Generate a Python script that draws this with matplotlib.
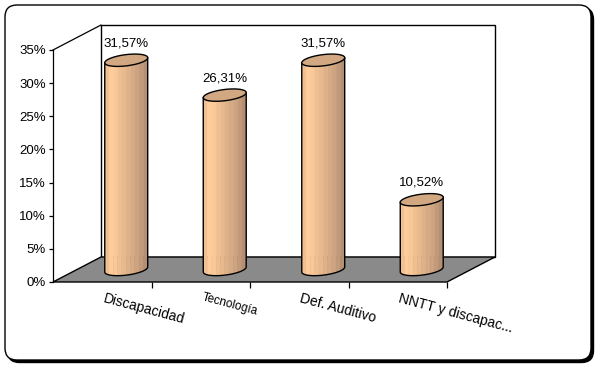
import matplotlib.pyplot as plt
import numpy as np
from matplotlib.patches import Polygon, Rectangle, FancyBboxPatch

plt.rcParams['font.family'] = ['Liberation Sans', 'DejaVu Sans']

categorias = ['Discapacidad', 'Tecnología', 'Def. Auditivo', 'NNTT y discapac...']
valores = [31.57, 26.31, 31.57, 10.52]
tam_cat = [10, 8.5, 10, 10]
yticks = [0, 5, 10, 15, 20, 25, 30, 35]

fig = plt.figure(figsize=(6, 3.68), dpi=100)

# marco redondeado con sombra
sombra = FancyBboxPatch((0.075, 0.055), 5.86, 3.55, boxstyle='round,pad=0,rounding_size=0.12',
                        transform=fig.dpi_scale_trans, fc='black', ec='black', zorder=-2)
marco = FancyBboxPatch((0.05, 0.08), 5.86, 3.55, boxstyle='round,pad=0,rounding_size=0.12',
                       transform=fig.dpi_scale_trans, fc='white', ec='black', lw=1, zorder=-1)
fig.patches.extend([sombra, marco])

# plano frontal del grafico 3D
ax = fig.add_axes([53 / 600, 86 / 368, 394 / 600, 232 / 368])
ax.set_xlim(0, 4)
ax.set_ylim(0, 35)
ax.patch.set_visible(False)

dx, dy = 0.487, 3.77      # desplazamiento de profundidad
a, b, s = 0.218, 0.85, 0.38  # radio, semieje vertical, inclinacion

# pared de fondo
ax.add_patch(Rectangle((dx, dy), 4, 35, fc='white', ec='black', lw=1, zorder=1, clip_on=False))
# suelo
ax.add_patch(Polygon([(0, 0), (4, 0), (4 + dx, dy), (dx, dy)], closed=True,
                     fc='#8a8a8a', ec='black', lw=1, zorder=2, clip_on=False))
ax.plot([0, dx], [35, 35 + dy], color='black', lw=0.9, zorder=2, clip_on=False)

franjas = ['#F0C092', '#FFCC99', '#FAC797', '#F0BF91', '#E8B98D', '#DFB188',
           '#D6AA84', '#CDA380', '#C29A7A', '#B58F72']

for i, v in enumerate(valores):
    xc = i + 0.5 + dx / 2
    ybot = dy / 2
    ytop = v + dy / 2
    bordes = np.linspace(-1, 1, len(franjas) + 1)
    for j, col in enumerate(franjas):
        u = np.linspace(bordes[j], bordes[j + 1], 12)
        yb = ybot + s * u - b * np.sqrt(np.clip(1 - u ** 2, 0, 1))
        yt = ytop + s * u
        pts = np.column_stack([np.r_[xc + a * u, xc + a * u[::-1]], np.r_[yb, yt[::-1]]])
        ax.add_patch(Polygon(pts, closed=True, fc=col, ec=col, lw=0.3, zorder=3, clip_on=False))
    # contorno del cuerpo
    t = np.linspace(np.pi, 2 * np.pi, 60)
    xs = np.r_[xc - a, xc + a * np.cos(t), xc + a]
    ys = np.r_[ytop - s, ybot + b * np.sin(t) + s * np.cos(t), ytop + s]
    ax.plot(xs, ys, color='black', lw=1, zorder=4, clip_on=False)
    # tapa superior
    t2 = np.linspace(0, 2 * np.pi, 100)
    tapa = np.column_stack([xc + a * np.cos(t2), ytop + b * np.sin(t2) + s * np.cos(t2)])
    ax.add_patch(Polygon(tapa, closed=True, fc='#D2A882', ec='black', lw=1, zorder=5, clip_on=False))
    ax.text(xc, ytop + b + 0.8, f'{v:.2f}%'.replace('.', ','), ha='center', va='bottom',
            fontsize=9.5, zorder=6)

for i, cat in enumerate(categorias):
    ax.annotate(cat, xy=(i + 0.5, 0), xytext=(3, -9), textcoords='offset pixels',
                ha='left', va='top', rotation=-15, rotation_mode='anchor',
                fontsize=tam_cat[i], annotation_clip=False)

for lado in ['top', 'right', 'bottom']:
    ax.spines[lado].set_visible(False)
ax.spines['left'].set_linewidth(0.9)
ax.spines['left'].set_zorder(2)
ax.set_yticks(yticks)
ax.set_yticklabels([f'{t}%' for t in yticks], fontsize=9.5)
ax.set_xticks([1, 2, 3, 4])
ax.set_xticklabels([])
ax.tick_params(axis='y', length=3, width=0.9, pad=2)
ax.tick_params(axis='x', length=4, width=0.9)

fig.savefig('out.png', dpi=100)
